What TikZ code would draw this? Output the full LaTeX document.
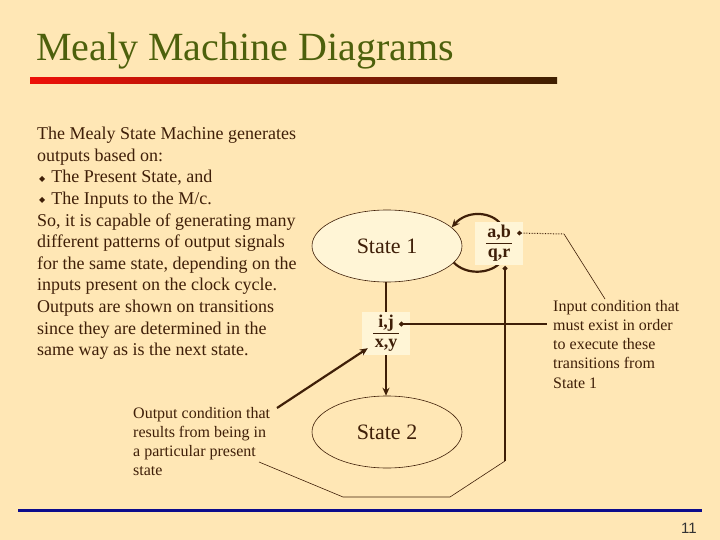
\documentclass[tikz,border=0pt]{standalone}
\usepackage{fontspec}
\setmainfont{Liberation Serif}
\newfontfamily\arialf{Liberation Sans}
\newfontfamily\djv{DejaVu Sans}
\usetikzlibrary{arrows.meta,shapes.geometric,calc}
\definecolor{bg}{HTML}{FFE7B5}
\definecolor{cream}{HTML}{FFF5D6}
\definecolor{ink}{HTML}{3F1F08}
\definecolor{titlegreen}{HTML}{4D600C}
\definecolor{barred}{HTML}{EE1008}
\definecolor{bardark}{HTML}{3F1F00}
\definecolor{navy}{HTML}{0C0C8C}
\newcommand{\bul}{\hspace{2pt}{\djv\fontsize{8}{8}\selectfont\raisebox{1.5pt}{◆}}\hspace{6pt}}
\newcommand{\fracbox}[2]{{\setlength{\arrayrulewidth}{1.3pt}\renewcommand{\arraystretch}{0.95}\begin{tabular}{@{\hspace{1.5pt}}c@{\hspace{1.5pt}}}#1\\\hline #2\end{tabular}}}
\tikzset{
  conn/.style={draw=ink, line width=2.2pt},
  thinln/.style={draw=ink, line width=0.6pt},
  state/.style={ellipse, draw=ink, line width=0.6pt, minimum width=150, minimum height=72, inner sep=0, text=ink, font=\fontsize{22}{26}\selectfont},
  lbl/.style={fill=cream, minimum width=48, minimum height=43, inner sep=0, text=ink, font=\bfseries\fontsize{18}{20}\selectfont},
  note/.style={anchor=north west, inner sep=0, align=left, text=ink, font=\fontsize{16}{19.2}\selectfont},
  tip/.style={-{Stealth[length=8pt,width=7pt]}},
  dot/.style={{Circle[length=4.5pt]}-}
}
\begin{document}
\begin{tikzpicture}[x=1pt,y=-1pt]
\fill[bg] (0,0) rectangle (720,540);
\useasboundingbox (0,0) rectangle (720,540);

% title and bar
\node[anchor=base west, inner sep=0, text=titlegreen, font=\fontsize{40}{48}\selectfont] (title) at (36,61) {Mealy Machine Diagrams};
\shade[left color=barred, right color=bardark] (30,78) rectangle (557,84);

% body text
\node[anchor=north west, inner sep=0, align=left, text=ink, font=\fontsize{18}{21.6}\selectfont] (body) at (37,127) {The Mealy State Machine generates\\outputs based on:\\\bul The Present State, and\\\bul The Inputs to the M/c.\\So, it is capable of generating many\\different patterns of output signals\\for the same state, depending on the\\inputs present on the clock cycle.\\Outputs are shown on transitions\\since they are determined in the\\same way as is the next state.};

% states
\node[state, fill=cream] (s1) at (387,246) {State 1};
\node[state] (s2) at (387,432) {State 2};

% self loop on state 1 (partly hidden by the label box)
\draw[conn, tip] (s1.-14) .. controls (466,275) and (488,274) .. (499,264) -- (499,222) .. controls (488,211) and (466,211) .. (s1.16);

% label boxes
\node[lbl] (ij) at (386,333.5) {\fracbox{i,j}{x,y}};
\node[lbl] (ab) at (499,243.5) {\fracbox{a,b}{q,r}};

% transitions
\draw[conn] (ij.north) -- (ij.north |- s1.south);
\draw[conn, tip] (ij.south) -- (ij.south |- s2.north);

% notes
\node[note] (innote) at (553,300) {Input condition that\\must exist in order\\to execute these\\transitions from\\State 1};
\node[note] (outnote) at (133,407) {Output condition that\\results from being in\\a particular present\\state};

% callouts
\coordinate (ijdot) at ($(ij.east)+(-11,-9.5)$);
\coordinate (inend) at (547,324);
\draw[conn, dot] (ijdot) -- (inend);

\coordinate (abdot) at ($(ab.east)+(-6,-10.5)$);
\coordinate (ab1) at (564,234);
\coordinate (ab2) at (605,299);
\draw[thinln, densely dotted, line width=1pt, dot] (abdot) -- (ab1);
\draw[thinln] (ab1) -- (ab2);

\coordinate (outstart) at (277,408);
\coordinate (outend) at ($(ij.south west)+(6,-7)$);
\draw[conn, tip] (outstart) -- (outend);

\coordinate (qrdot) at ($(ab.south)+(6,1)$);
\coordinate (q1) at (505,461);
\coordinate (q2) at (450,497);
\coordinate (q3) at (343,497);
\coordinate (q4) at (259,462);
\draw[conn, dot] (qrdot) -- (q1);
\draw[thinln] (q1) -- (q2) -- (q3) -- (q4);

% footer
\fill[navy] (18,508.5) rectangle (702,511.5);
\node[anchor=base east, inner sep=0, text=black!80, font=\arialf\fontsize{15}{18}\selectfont] (pg) at (697,533) {11};
\end{tikzpicture}
\end{document}
